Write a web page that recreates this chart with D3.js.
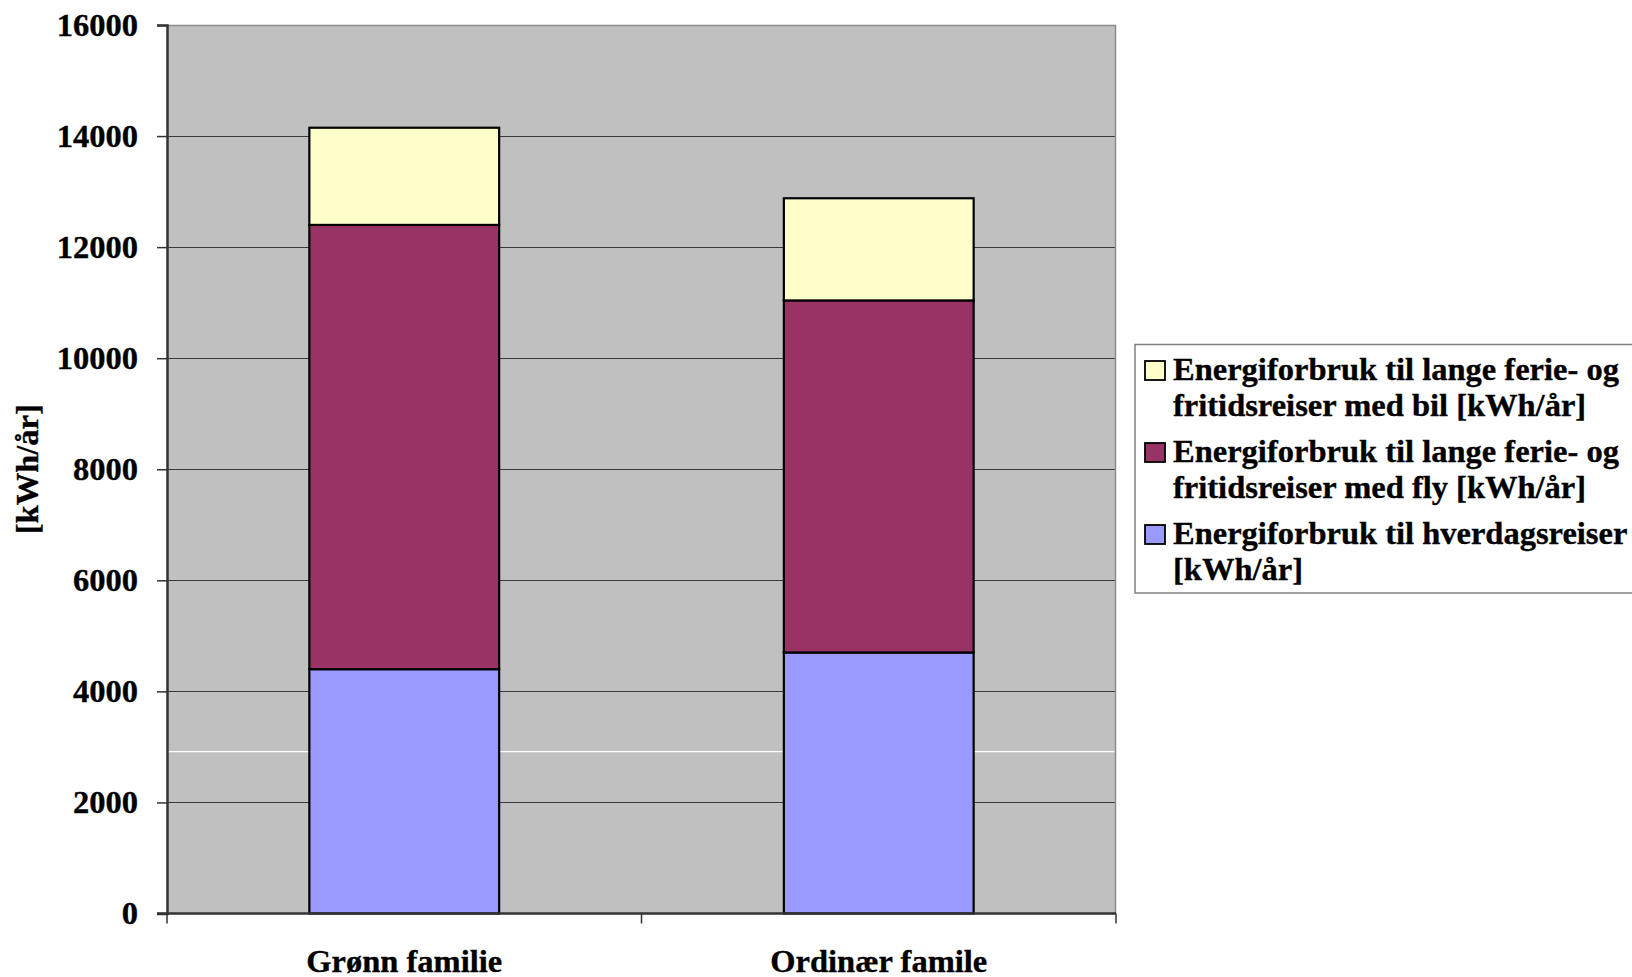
<!DOCTYPE html>
<html>
<head>
<meta charset="utf-8">
<script src="https://cdn.jsdelivr.net/npm/d3@7"></script>
<style>
  html, body { margin: 0; padding: 0; background: #ffffff; }
  svg { display: block; }
  text { font-family: "Liberation Serif", "Times New Roman", serif; font-weight: bold; fill: #000; stroke: #000; stroke-width: 0.35px; }
</style>
</head>
<body>
<svg id="chart" width="1632" height="977"></svg>
<script>
// ---- data ----
const categories = ["Grønn familie", "Ordinær famile"];
const seriesNames = [
  "Energiforbruk til hverdagsreiser [kWh/år]",
  "Energiforbruk til lange ferie- og fritidsreiser med fly [kWh/år]",
  "Energiforbruk til lange ferie- og fritidsreiser med bil [kWh/år]"
];
const hverdagsreiser = [4400, 4700];
const flyReiser = [8000, 6340];
const bilReiser = [1750, 1840];
const yTicks = [0, 2000, 4000, 6000, 8000, 10000, 12000, 14000, 16000];
const legendLines = [
  ["Energiforbruk til lange ferie- og", "fritidsreiser med bil [kWh/år]"],
  ["Energiforbruk til lange ferie- og", "fritidsreiser med fly [kWh/år]"],
  ["Energiforbruk til hverdagsreiser", "[kWh/år]"]
];
const yAxisTitle = "[kWh/år]";
const whiteLineValue = 2914;

// ---- layout ----
const colors = ["#9999FF", "#993366", "#FFFFCC"];
const plot = { left: 167, top: 25, right: 1116, bottom: 913.5 };
const fontSize = 32.5;
const svg = d3.select("#chart");

const x = d3.scaleBand().domain(categories).range([plot.left, plot.right]).paddingInner(0.6).paddingOuter(0.3);
const xGroup = d3.scaleBand().domain(categories).range([plot.left, plot.right]);
const y = d3.scaleLinear().domain([0, 16000]).range([plot.bottom, plot.top]);

// plot background
svg.append("rect")
  .attr("x", plot.left).attr("y", plot.top)
  .attr("width", plot.right - plot.left).attr("height", plot.bottom - plot.top)
  .attr("fill", "#C0C0C0");

// gridlines
svg.append("g").selectAll("line").data(yTicks.filter(d => d > 0 && d < 16000)).join("line")
  .attr("x1", plot.left).attr("x2", plot.right)
  .attr("y1", d => Math.round(y(d)) + 0.5).attr("y2", d => Math.round(y(d)) + 0.5)
  .attr("stroke", "#3a3a3a").attr("stroke-width", 1.2);

// white artifact line
svg.append("line")
  .attr("x1", plot.left).attr("x2", plot.right)
  .attr("y1", y(whiteLineValue)).attr("y2", y(whiteLineValue))
  .attr("stroke", "#ffffff").attr("stroke-width", 1.2);

// top and right border
svg.append("path")
  .attr("d", `M${plot.left},${plot.top + 0.5}H${plot.right - 0.5}V${plot.bottom}`)
  .attr("fill", "none").attr("stroke", "#8a8a8a").attr("stroke-width", 1.5);

// stacked bars
const rows = categories.map((c, i) => ({ cat: c, s0: hverdagsreiser[i], s1: flyReiser[i], s2: bilReiser[i] }));
const stack = d3.stack().keys(["s0", "s1", "s2"]);
const stacked = stack(rows);

svg.append("g").selectAll("g").data(stacked).join("g")
  .attr("fill", (d, i) => colors[i])
  .selectAll("rect").data(d => d).join("rect")
  .attr("x", d => x(d.data.cat))
  .attr("width", x.bandwidth())
  .attr("y", d => y(d[1]))
  .attr("height", d => y(d[0]) - y(d[1]))
  .attr("stroke", "#000").attr("stroke-width", 2.2);

// y axis
const yAxis = d3.axisLeft(y).tickValues(yTicks).tickSize(10).tickPadding(19).tickFormat(d3.format("d"));
const gy = svg.append("g").attr("transform", `translate(${plot.left},0)`).call(yAxis);
gy.select(".domain").attr("stroke", "#333").attr("stroke-width", 2.5);
gy.selectAll(".tick line").attr("stroke", "#333").attr("stroke-width", 1.5);
gy.selectAll(".tick text").attr("font-size", fontSize).attr("font-family", "Liberation Serif, Times New Roman, serif").attr("font-weight", "bold").attr("fill", "#000");

// x axis
const gx = svg.append("g").attr("transform", `translate(0,${plot.bottom})`);
gx.append("line").attr("x1", plot.left - 10).attr("x2", plot.right)
  .attr("y1", 0).attr("y2", 0).attr("stroke", "#333").attr("stroke-width", 2.5);
const xTickPos = [plot.left, ...categories.map(c => xGroup(c) + xGroup.bandwidth())];
gx.selectAll("line.xt").data(xTickPos).join("line").attr("class", "xt")
  .attr("x1", d => d).attr("x2", d => d).attr("y1", 0).attr("y2", 10)
  .attr("stroke", "#333").attr("stroke-width", 1.5);
gx.selectAll("text").data(categories).join("text")
  .attr("x", d => x(d) + x.bandwidth() / 2)
  .attr("y", 58)
  .attr("text-anchor", "middle").attr("font-size", fontSize)
  .text(d => d);

// y axis title
svg.append("text")
  .attr("transform", `translate(38,${(plot.top + plot.bottom) / 2}) rotate(-90)`)
  .attr("text-anchor", "middle").attr("font-size", fontSize)
  .text(yAxisTitle);

// legend
const lg = svg.append("g");
lg.append("rect").attr("x", 1135).attr("y", 344.5).attr("width", 560).attr("height", 248.5)
  .attr("fill", "#fff").attr("stroke", "#808080").attr("stroke-width", 1.5);
const legendColors = [colors[2], colors[1], colors[0]];
legendLines.forEach((lines, i) => {
  const base = 380 + i * 82;
  lg.append("rect").attr("x", 1145).attr("y", base - 19).attr("width", 20).attr("height", 19)
    .attr("fill", legendColors[i]).attr("stroke", "#000").attr("stroke-width", 1.8);
  const t = lg.append("text").attr("font-size", fontSize);
  lines.forEach((ln, j) => {
    t.append("tspan").attr("x", 1173).attr("y", base + j * 36).text(ln);
  });
});
</script>
</body>
</html>
